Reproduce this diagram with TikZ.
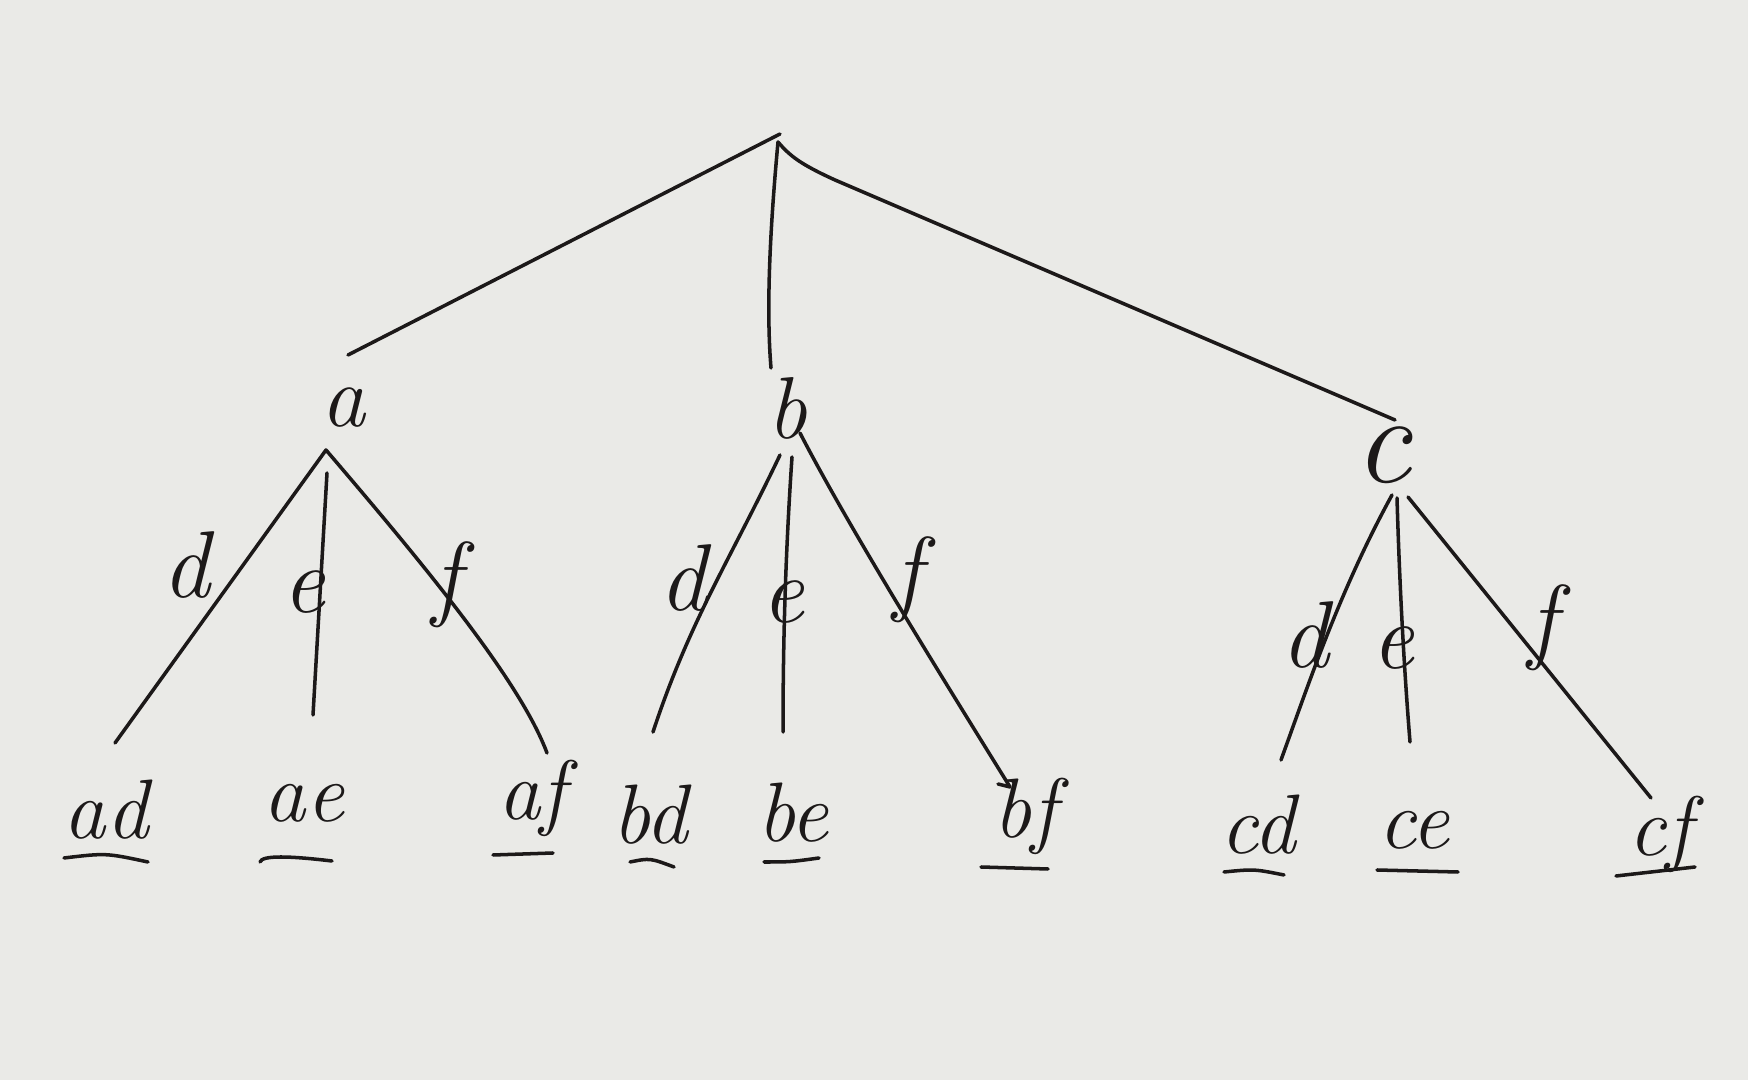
\documentclass[tikz,border=0pt]{standalone}
\usetikzlibrary{arrows.meta}
\definecolor{paper}{RGB}{234,234,231}
\definecolor{ink}{RGB}{28,25,25}
\begin{document}
\begin{tikzpicture}[x=0.01cm,y=-0.01cm,
  edge/.style={draw=ink,line width=1pt,line cap=round,line join=round},
  uline/.style={draw=ink,line width=1pt,line cap=round},
  inner/.style={text=ink,inner sep=0pt,font=\fontsize{25}{25}\selectfont\itshape},
  elbl/.style={text=ink,inner sep=0pt,font=\fontsize{27}{27}\selectfont\itshape},
  leaf/.style={text=ink,inner sep=0pt,font=\fontsize{24}{24}\selectfont\itshape}]
\fill[paper] (0,0) rectangle (1748,1080);
\useasboundingbox (0,0) rectangle (1748,1080);

% root and level-1
\coordinate (r) at (780,134);
\coordinate (rl) at (778,142);
\coordinate (ra) at (348,355);
\coordinate (rb) at (771,368);
\coordinate (rc) at (1395,420);
\node[inner] (a) at (343,408) {a};
\node[inner] (b) at (787,408) {b};
\node[inner,font=\fontsize{36}{36}\selectfont\itshape] (c) at (1383,455) {c};

\draw[edge] (r) -- (ra);
\draw[edge] (rl) .. controls (768,250) and (767,320) .. (rb);
\draw[edge] (rl) .. controls (790,156) and (800,164) .. (835,180) -- (rc);

% subtree a
\coordinate (aA) at (326,450);
\coordinate (aE) at (327,473);
\coordinate (ad0) at (115,743);
\coordinate (ae0) at (313,715);
\coordinate (af0) at (547,753);
\draw[edge] (ad0) -- (aA) .. controls (420,560) and (520,680) .. (af0);
\draw[edge] (aE) -- (ae0);
\node[elbl] (ld1) at (186,565) {d};
\node[elbl] (le1) at (304,592) {e};
\node[elbl] (lf1) at (447,585) {f};
\node[leaf] (ad) at (106,810) {ad};
\node[leaf] (ae) at (304,803) {ae};
\node[leaf] (af) at (532,798) {af};
\draw[uline] (64,858) .. controls (106,853) .. (148,862);
\draw[uline] (260,862) .. controls (262,855) and (290,856) .. (332,861);
\draw[uline] (493,855) -- (553,853);

% subtree b
\coordinate (bA) at (800,433);
\coordinate (bD) at (780,455);
\coordinate (bE) at (792,457);
\coordinate (bd0) at (653,732);
\coordinate (be0) at (783,732);
\coordinate (bf0) at (1010,787);
\draw[edge] (bD) .. controls (730,560) and (690,620) .. (bd0);
\draw[edge] (bE) .. controls (785,560) and (783,650) .. (be0);
\draw[edge] (bA) .. controls (850,530) and (950,690) .. (bf0) -- (998,784);
\node[elbl] (ld2) at (683,578) {d};
\node[elbl] (le2) at (783,602) {e};
\node[elbl] (lf2) at (908,580) {f};
\node[leaf] (bd) at (650,815) {bd};
\node[leaf] (be) at (793,813) {be};
\node[leaf] (bf) at (1025,816) {bf};
\draw[uline] (630,862) .. controls (650,858) .. (674,867);
\draw[uline] (764,862) .. controls (790,862) .. (819,858);
\draw[uline] (981,867) -- (1048,869);

% subtree c
\coordinate (cD) at (1392,495);
\coordinate (cE) at (1397,498);
\coordinate (cF) at (1408,497);
\coordinate (cd0) at (1281,760);
\coordinate (ce0) at (1410,742);
\coordinate (cf0) at (1651,798);
\draw[edge] (cD) .. controls (1340,590) and (1310,680) .. (cd0);
\draw[edge] (cE) .. controls (1400,600) and (1405,680) .. (ce0);
\draw[edge] (cF) -- (cf0);
\node[elbl] (ld3) at (1305,635) {d};
\node[elbl] (le3) at (1393,648) {e};
\node[elbl] (lf3) at (1543,628) {f};
\node[leaf] (cd) at (1258,825) {cd};
\node[leaf] (ce) at (1414,830) {ce};
\node[leaf] (cf) at (1660,834) {cf};
\draw[uline] (1224,872) .. controls (1254,869) .. (1284,875);
\draw[uline] (1377,870) -- (1458,872);
\draw[uline] (1616,876) -- (1695,867);
\end{tikzpicture}
\end{document}
